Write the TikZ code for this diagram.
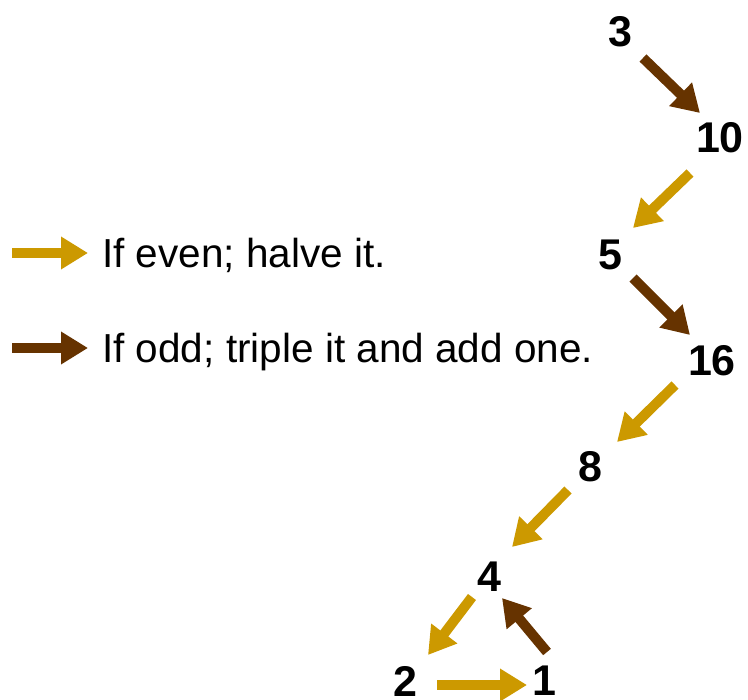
\documentclass[tikz,border=0pt]{standalone}
\usepackage{fontspec}
\setmainfont{Liberation Sans}
\usetikzlibrary{arrows.meta}
\definecolor{evencol}{HTML}{CC9900}
\definecolor{oddcol}{HTML}{663300}
\tikzset{
  num/.style={font=\fontsize{43}{48}\selectfont\bfseries, inner sep=0pt, anchor=center},
  legtext/.style={font=\fontsize{40.5}{46}\selectfont, inner sep=0pt, anchor=base west},
  blockarrow/.style={line width=10pt, -{Triangle[length=27pt,width=31pt]}},
  evenarrow/.style={blockarrow, draw=evencol, fill=evencol},
  oddarrow/.style={blockarrow, draw=oddcol, fill=oddcol},
}
\begin{document}
\begin{tikzpicture}[x=1pt,y=-1pt]
\useasboundingbox (0,0) rectangle (748,700);
% numbers
\node[num] (n3)  at (620,32)  {3};
\node[num] (n10) at (720,138) {10};
\node[num] (n5)  at (610,255) {5};
\node[num] (n16) at (712,361) {16};
\node[num] (n8)  at (590,467) {8};
\node[num] (n4)  at (489,577) {4};
\node[num] (n2)  at (405,681) {2};
\node[num] (n1)  at (544,681) {1};
% chain arrows
\draw[oddarrow]  ([shift={(23,26)}]n3.center)   -- ([shift={(-20,-25)}]n10.center);
\draw[evenarrow] ([shift={(-30,35)}]n10.center) -- ([shift={(23,-27)}]n5.center);
\draw[oddarrow]  ([shift={(23,23)}]n5.center)   -- ([shift={(-22,-26)}]n16.center);
\draw[evenarrow] ([shift={(-37,24)}]n16.center) -- ([shift={(27,-25)}]n8.center);
\draw[evenarrow] ([shift={(-22,23)}]n8.center)  -- ([shift={(23,-30)}]n4.center);
\draw[evenarrow] ([shift={(-17,20)}]n4.center)  -- ([shift={(23,-26)}]n2.center);
\draw[oddarrow]  ([shift={(3,-29)}]n1.center)   -- ([shift={(13,21)}]n4.center);
\draw[evenarrow] ([shift={(32,4)}]n2.center)    -- ([shift={(-17,4)}]n1.center);
% legend
\coordinate (le) at (12,253);
\coordinate (lo) at (12,348);
\node[legtext] (teven) at (102,268) {If even; halve it.};
\node[legtext] (todd)  at (102,363) {If odd; triple it and add one.};
\draw[evenarrow] (le) -- ++(76,0);
\draw[oddarrow]  (lo) -- ++(76,0);
\end{tikzpicture}
\end{document}
